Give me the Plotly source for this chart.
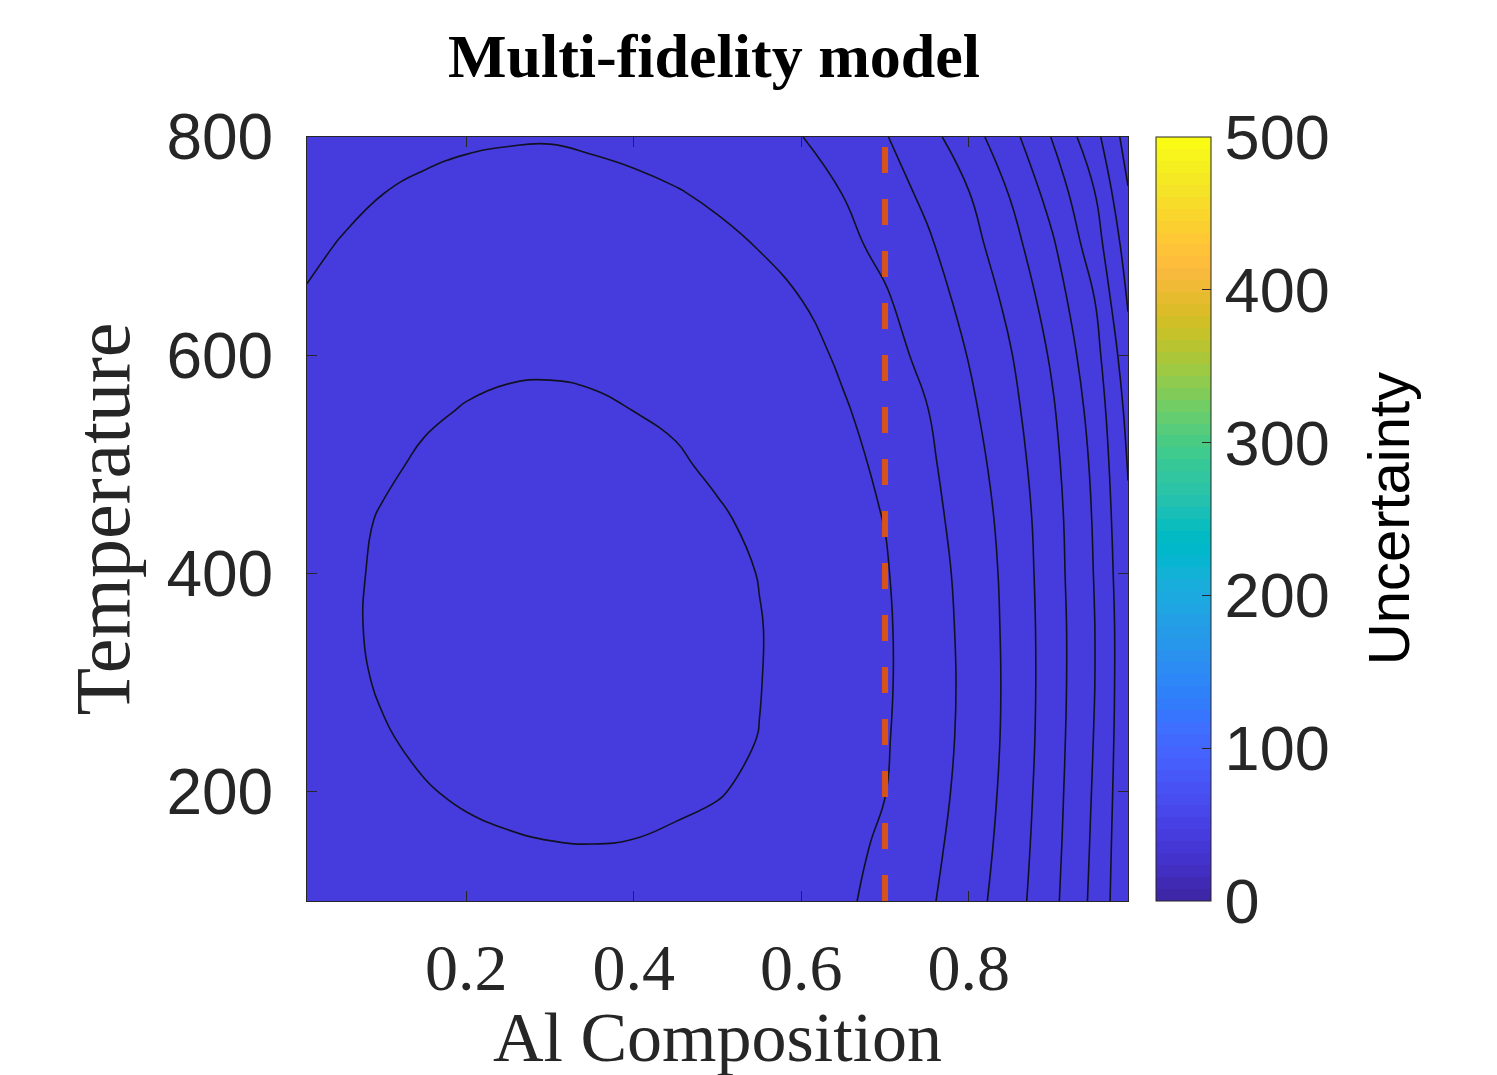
import plotly.graph_objects as go

# ---------------- data ----------------
al_composition = [0.01, 0.05, 0.10, 0.15, 0.20, 0.25, 0.30, 0.35, 0.40, 0.45, 0.50,
                  0.55, 0.60, 0.65, 0.70, 0.75, 0.80, 0.85, 0.90, 0.95, 0.99]
temperature = [100, 150, 200, 250, 300, 350, 400, 450, 500, 550, 600, 650, 700, 750, 800]

# estimated uncertainty field (rows = temperature, columns = Al composition)
uncertainty = [
    [40.875, 40.815, 40.75, 40.70, 40.66, 40.625, 40.61, 40.60, 40.605, 40.635, 40.68, 40.75, 40.84, 40.92, 41.16, 41.42, 41.79, 42.265, 42.88, 43.625, 44.43],
    [40.84, 40.765, 40.685, 40.62, 40.57, 40.535, 40.5125, 40.505, 40.515, 40.55, 40.605, 40.685, 40.785, 40.85, 41.09, 41.355, 41.715, 42.21, 42.835, 43.59, 44.405],
    [40.795, 40.70, 40.60, 40.52, 40.46, 40.42, 40.395, 40.39, 40.405, 40.44, 40.48, 40.57, 40.715, 40.85, 40.99, 41.30, 41.655, 42.165, 42.80, 43.555, 44.375],
    [40.735, 40.635, 40.525, 40.44, 40.37, 40.3275, 40.305, 40.30, 40.32, 40.36, 40.425, 40.505, 40.67, 40.825, 40.96, 41.265, 41.62, 42.13, 42.77, 43.52, 44.35],
    [40.70, 40.585, 40.47, 40.375, 40.305, 40.26, 40.235, 40.24, 40.265, 40.315, 40.39, 40.49, 40.645, 40.805, 40.94, 41.25, 41.61, 42.12, 42.755, 43.49, 44.34],
    [40.68, 40.565, 40.445, 40.345, 40.275, 40.225, 40.205, 40.21, 40.24, 40.295, 40.38, 40.485, 40.64, 40.805, 40.94, 41.26, 41.625, 42.13, 42.755, 43.49, 44.34],
    [40.695, 40.575, 40.45, 40.35, 40.275, 40.23, 40.21, 40.22, 40.25, 40.31, 40.395, 40.51, 40.67, 40.825, 40.965, 41.285, 41.655, 42.15, 42.78, 43.52, 44.38],
    [40.715, 40.60, 40.475, 40.38, 40.31, 40.265, 40.25, 40.26, 40.30, 40.36, 40.455, 40.58, 40.725, 40.865, 41.01, 41.34, 41.715, 42.19, 42.805, 43.55, 44.44],
    [40.805, 40.685, 40.555, 40.455, 40.385, 40.345, 40.33, 40.345, 40.385, 40.455, 40.565, 40.66, 40.75, 40.835, 41.115, 41.405, 41.795, 42.265, 42.865, 43.60, 44.525],
    [40.86, 40.75, 40.635, 40.545, 40.485, 40.45, 40.44, 40.46, 40.503, 40.56, 40.705, 40.77, 40.86, 40.95, 41.225, 41.485, 41.90, 42.36, 42.95, 43.685, 44.635],
    [40.91, 40.815, 40.715, 40.64, 40.585, 40.555, 40.55, 40.565, 40.595, 40.65, 40.69, 40.75, 40.82, 41.085, 41.33, 41.62, 42.02, 42.475, 43.07, 43.815, 44.80],
    [40.975, 40.895, 40.81, 40.745, 40.70, 40.675, 40.67, 40.685, 40.715, 40.76, 40.825, 40.905, 40.995, 41.225, 41.445, 41.77, 42.155, 42.62, 43.235, 43.99, 45.05],
    [41.055, 40.985, 40.91, 40.855, 40.815, 40.79, 40.785, 40.795, 40.825, 40.865, 40.925, 41.01, 41.195, 41.38, 41.615, 41.925, 42.31, 42.815, 43.435, 44.26, 45.22],
    [41.135, 41.075, 41.005, 40.955, 40.925, 40.905, 40.90, 40.915, 40.94, 40.985, 41.055, 41.23, 41.365, 41.51, 41.79, 42.105, 42.495, 43.04, 43.705, 44.495, 45.475],
    [41.24, 41.18, 41.115, 41.07, 41.035, 41.02, 41.015, 41.04, 41.08, 41.15, 41.24, 41.35, 41.49, 41.725, 41.97, 42.335, 42.785, 43.345, 44.03, 44.835, 45.715],
]

contour_start = 40.5
contour_end = 45.5
contour_step = 0.5

selected_composition = 0.7

x_ticks = [0.2, 0.4, 0.6, 0.8]
x_ticklabels = ["0.2", "0.4", "0.6", "0.8"]
y_ticks = [200, 400, 600, 800]
cbar_ticks = [0, 100, 200, 300, 400, 500]

# ---------------- parula colormap (64 colours) ----------------
parula = [
    (0.2422, 0.1504, 0.6603), (0.2504, 0.1650, 0.7076), (0.2578, 0.1818, 0.7511), (0.2647, 0.1978, 0.7952),
    (0.2706, 0.2147, 0.8364), (0.2751, 0.2342, 0.8710), (0.2783, 0.2559, 0.8991), (0.2803, 0.2782, 0.9221),
    (0.2813, 0.3006, 0.9414), (0.2810, 0.3228, 0.9579), (0.2795, 0.3447, 0.9717), (0.2760, 0.3667, 0.9829),
    (0.2699, 0.3892, 0.9906), (0.2602, 0.4123, 0.9952), (0.2440, 0.4358, 0.9988), (0.2206, 0.4603, 0.9973),
    (0.1963, 0.4847, 0.9892), (0.1834, 0.5074, 0.9798), (0.1786, 0.5289, 0.9682), (0.1764, 0.5499, 0.9520),
    (0.1687, 0.5703, 0.9359), (0.1540, 0.5902, 0.9218), (0.1460, 0.6091, 0.9079), (0.1380, 0.6276, 0.8973),
    (0.1248, 0.6459, 0.8883), (0.1113, 0.6635, 0.8763), (0.0952, 0.6798, 0.8598), (0.0689, 0.6948, 0.8394),
    (0.0297, 0.7082, 0.8163), (0.0036, 0.7203, 0.7917), (0.0067, 0.7312, 0.7660), (0.0433, 0.7411, 0.7394),
    (0.0964, 0.7500, 0.7120), (0.1408, 0.7584, 0.6842), (0.1717, 0.7670, 0.6554), (0.1938, 0.7758, 0.6251),
    (0.2161, 0.7843, 0.5923), (0.2470, 0.7918, 0.5567), (0.2906, 0.7973, 0.5188), (0.3406, 0.8008, 0.4789),
    (0.3909, 0.8029, 0.4354), (0.4456, 0.8024, 0.3909), (0.5044, 0.7993, 0.3480), (0.5616, 0.7942, 0.3045),
    (0.6174, 0.7876, 0.2612), (0.6720, 0.7793, 0.2227), (0.7242, 0.7698, 0.1910), (0.7738, 0.7598, 0.1646),
    (0.8203, 0.7498, 0.1535), (0.8634, 0.7406, 0.1596), (0.9035, 0.7330, 0.1774), (0.9393, 0.7288, 0.2100),
    (0.9728, 0.7298, 0.2394), (0.9956, 0.7434, 0.2371), (0.9970, 0.7659, 0.2199), (0.9952, 0.7893, 0.2028),
    (0.9892, 0.8136, 0.1885), (0.9786, 0.8386, 0.1766), (0.9676, 0.8639, 0.1643), (0.9610, 0.8890, 0.1537),
    (0.9597, 0.9135, 0.1423), (0.9628, 0.9373, 0.1265), (0.9691, 0.9606, 0.1064), (0.9769, 0.9839, 0.0805),
]
n = len(parula)
colorscale = []
for i, (r, g, b) in enumerate(parula):
    c = f"rgb({round(r*255)},{round(g*255)},{round(b*255)})"
    colorscale.append([i / n, c])
    colorscale.append([(i + 1) / n, c])

AX = "#262626"
SERIF = "Liberation Serif, Times New Roman, serif"
SANS = "Liberation Sans, Arial, sans-serif"

W, H = 1490, 1068   # page shows the figure with a small body margin

fig = go.Figure()

# filled background + colorbar
fig.add_trace(go.Heatmap(
    x=al_composition, y=temperature, z=uncertainty,
    zmin=0, zmax=500, zsmooth=False,
    colorscale=colorscale, showscale=True, hoverinfo="skip",
    colorbar=dict(
        thickness=55, thicknessmode="pixels",
        len=1, lenmode="fraction",
        x=1.0341, xanchor="left", xpad=0,
        y=0.5, yanchor="middle", ypad=0,
        outlinecolor=AX, outlinewidth=1,
        tickvals=cbar_ticks, ticks="inside", ticklen=9, tickcolor=AX, tickwidth=1,
        tickfont=dict(family=SANS, size=63, color=AX),
    ),
))

# contour lines
fig.add_trace(go.Contour(
    x=al_composition, y=temperature, z=uncertainty,
    contours=dict(start=contour_start, end=contour_end, size=contour_step, coloring="none"),
    line=dict(color="#111122", width=1.6, smoothing=1.3),
    showscale=False, hoverinfo="skip",
))

# dashed vertical line at the selected composition
fig.add_trace(go.Scatter(
    x=[selected_composition, selected_composition], y=[temperature[0], temperature[-1]],
    mode="lines", line=dict(color="#D95319", width=6, dash="26px,26px"),
    hoverinfo="skip", showlegend=False,
))

fig.update_layout(
    width=W, height=H,
    margin=dict(l=299, r=370, t=129, b=175, autoexpand=False),
    paper_bgcolor="white", plot_bgcolor="rgb(70,60,222)",
    showlegend=False,
    title=dict(
        text="Multi-fidelity model",
        font=dict(family=SERIF, size=62, color="black", weight="bold"),
        x=706 / W, xref="container", xanchor="center",
        y=1 - 47 / H, yref="container", yanchor="middle",
    ),
    xaxis=dict(
        range=[0.01, 0.99], tickvals=x_ticks, ticktext=x_ticklabels,
        ticks="inside", ticklen=10, tickcolor=AX, tickwidth=1,
        showline=True, linecolor=AX, linewidth=1, mirror="ticks",
        showgrid=False, zeroline=False, automargin=False,
        tickfont=dict(family=SERIF, size=66, color=AX),
        ticklabelstandoff=9,
        title=dict(text="Al Composition", standoff=19,
                   font=dict(family=SERIF, size=70, color=AX)),
    ),
    yaxis=dict(
        range=[100, 800], tickvals=y_ticks,
        ticks="inside", ticklen=10, tickcolor=AX, tickwidth=1,
        showline=True, linecolor=AX, linewidth=1, mirror="ticks",
        showgrid=False, zeroline=False, automargin=False,
        tickfont=dict(family=SANS, size=64, color=AX),
        ticklabelstandoff=20,
        title=dict(text="Temperature", standoff=11,
                   font=dict(family=SERIF, size=78, color=AX)),
    ),
    annotations=[dict(
        text="Uncertainty", textangle=-90,
        x=1.317, xref="paper", xanchor="center",
        y=0.5, yref="paper", yanchor="middle",
        showarrow=False,
        font=dict(family=SANS, size=58, color="black"),
    )],
)

fig.write_html("out.html")
